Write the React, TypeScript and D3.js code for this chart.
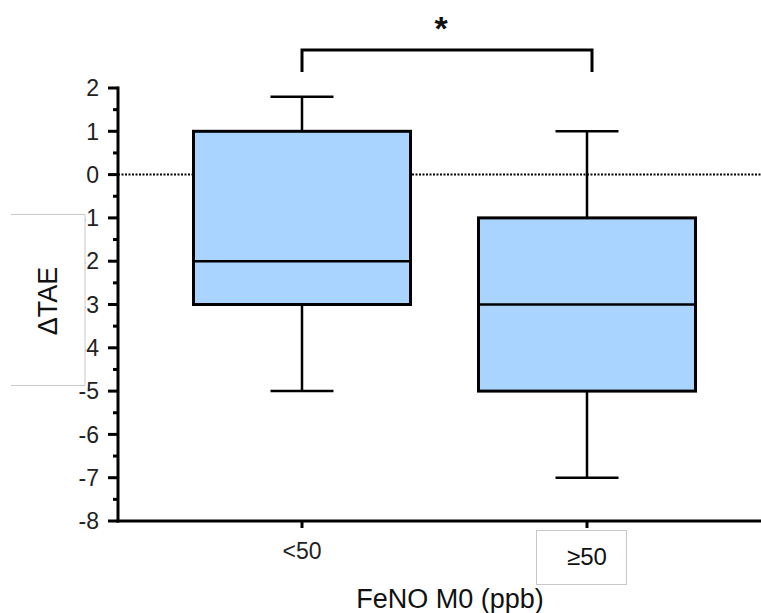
import React from "react";
import * as d3 from "d3";

const categories = ["<50", "≥50"];
const whiskerLow = [-5, -7];
const q1 = [-3, -5];
const median = [-2, -3];
const q3 = [1, -1];
const whiskerHigh = [1.8, 1];
const yTicks = [2, 1, 0, -1, -2, -3, -4, -5, -6, -7, -8];
const yTitle = "ΔTAE";
const xTitle = "FeNO M0 (ppb)";
const sigLabel = "*";

const W = 761;
const H = 613;
const font = "'Liberation Sans', Arial, sans-serif";

export default function App() {
  const y = d3.scaleLinear().domain([-8, 2]).range([521, 88]);
  const x = d3.scalePoint<string>().domain(categories).range([302, 587]);
  const axisX = 118;
  const axisY = y(-8);
  const boxW = 217;
  const capW = 63;
  const minor = d3.range(-7.5, 2, 1);

  return (
    <svg width={W} height={H} style={{ position: "absolute", left: 0, top: 0, background: "#fff" }}>
      {/* dotted zero line */}
      <line x1={axisX} x2={W} y1={y(0)} y2={y(0)} stroke="#000" strokeWidth={2} strokeDasharray="2,1.5" />

      {/* boxes */}
      {categories.map((c, i) => {
        const cx = x(c)!;
        return (
          <g key={c}>
            <line x1={cx} x2={cx} y1={y(whiskerHigh[i])} y2={y(q3[i])} stroke="#000" strokeWidth={2.5} />
            <line x1={cx} x2={cx} y1={y(q1[i])} y2={y(whiskerLow[i])} stroke="#000" strokeWidth={2.5} />
            <line x1={cx - capW / 2} x2={cx + capW / 2} y1={y(whiskerHigh[i])} y2={y(whiskerHigh[i])} stroke="#000" strokeWidth={2.5} />
            <line x1={cx - capW / 2} x2={cx + capW / 2} y1={y(whiskerLow[i])} y2={y(whiskerLow[i])} stroke="#000" strokeWidth={2.5} />
            <rect x={cx - boxW / 2} y={y(q3[i])} width={boxW} height={y(q1[i]) - y(q3[i])} fill="#A8D4FF" stroke="#000" strokeWidth={3} />
            <line x1={cx - boxW / 2} x2={cx + boxW / 2} y1={y(median[i])} y2={y(median[i])} stroke="#000" strokeWidth={2.5} />
          </g>
        );
      })}

      {/* y axis */}
      <line x1={axisX} x2={axisX} y1={y(2) - 1.5} y2={axisY + 1.5} stroke="#000" strokeWidth={3} />
      {yTicks.map((t) => (
        <g key={t}>
          <line x1={axisX - 10} x2={axisX} y1={y(t)} y2={y(t)} stroke="#000" strokeWidth={3} />
          <text x={99} y={y(t)} dy="0.36em" textAnchor="end" fontFamily={font} fontSize={23} fill="#222">
            {t}
          </text>
        </g>
      ))}
      {minor.map((t) => (
        <line key={t} x1={axisX - 5} x2={axisX} y1={y(t)} y2={y(t)} stroke="#000" strokeWidth={3} />
      ))}

      {/* white label box over y-axis labels */}
      <rect x={0} y={y(-0.92)} width={85} height={y(-4.87) - y(-0.92)} fill="#fff" />
      <line x1={11} x2={85} y1={y(-0.92)} y2={y(-0.92)} stroke="#c8c8c8" strokeWidth={1} />
      <line x1={11} x2={85} y1={y(-4.87)} y2={y(-4.87)} stroke="#c8c8c8" strokeWidth={1} />
      <line x1={85} x2={85} y1={y(-0.92)} y2={y(-4.87)} stroke="#c8c8c8" strokeWidth={1} />
      <text transform={`translate(57,${y(-2.92)}) rotate(-90)`} textAnchor="middle" fontFamily={font} fontSize={27} fill="#111">
        {yTitle}
      </text>

      {/* x axis */}
      <line x1={axisX - 1.5} x2={W} y1={axisY} y2={axisY} stroke="#000" strokeWidth={3} />
      {categories.map((c) => (
        <line key={c} x1={x(c)!} x2={x(c)!} y1={axisY} y2={axisY + 7} stroke="#000" strokeWidth={3} />
      ))}
      <text x={x(categories[0])!} y={559} textAnchor="middle" fontFamily={font} fontSize={23} fill="#222">
        {categories[0]}
      </text>
      <rect x={536.5} y={530.5} width={90} height={54} fill="#fff" stroke="#c8c8c8" strokeWidth={1} />
      <text x={x(categories[1])!} y={565} textAnchor="middle" fontFamily={font} fontSize={24} fill="#111">
        {categories[1]}
      </text>
      <text x={450} y={608} textAnchor="middle" fontFamily={font} fontSize={27} fill="#111">
        {xTitle}
      </text>

      {/* significance bracket */}
      <path
        d={`M${x(categories[0])!},72 V50 H${x(categories[1])! + 5} V72`}
        fill="none"
        stroke="#000"
        strokeWidth={3}
      />
      <text x={441} y={40} textAnchor="middle" fontFamily={font} fontSize={34} fontWeight="bold" fill="#111">
        {sigLabel}
      </text>
    </svg>
  );
}
